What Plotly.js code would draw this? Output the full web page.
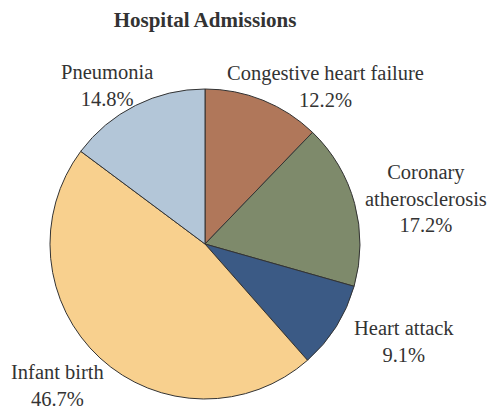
<!DOCTYPE html>
<html>
<head>
<meta charset="utf-8">
<script src="https://cdn.plot.ly/plotly-3.0.1.min.js"></script>
<style>html,body{margin:0;padding:0;background:#fff;}#chart{width:494px;height:413px;}</style>
</head>
<body>
<div id="chart"></div>
<script>
const categories = ["Congestive heart failure", "Coronary atherosclerosis", "Heart attack", "Infant birth", "Pneumonia"];
const labelLines = ["Congestive heart failure", "Coronary<br>atherosclerosis", "Heart attack", "Infant birth", "Pneumonia"];
const percents = [12.2, 17.2, 9.1, 46.7, 14.8];
const colors = ["#b0775a", "#7e8a6b", "#3b5a85", "#f8d08e", "#b3c6d8"];
const labelPos = [[325, 87], [426, 199], [404, 341], [57, 385], [107, 86]];

const W = 494, H = 413;
const annotations = categories.map((c, i) => ({
  text: labelLines[i] + "<br>" + percents[i].toFixed(1) + "%",
  x: labelPos[i][0] / W, y: 1 - labelPos[i][1] / H,
  xref: "paper", yref: "paper", xanchor: "center", yanchor: "middle",
  showarrow: false, align: "center",
  font: {family: "Liberation Serif, serif", size: 20.5, color: "#333"}
}));

const data = [{
  type: "pie",
  labels: categories,
  values: percents,
  sort: false,
  direction: "clockwise",
  rotation: 0,
  textinfo: "none",
  hoverinfo: "label+percent",
  marker: {colors: colors, line: {color: "#333", width: 1}},
  domain: {x: [50 / W, 360 / W], y: [(H - 399) / H, (H - 89) / H]}
}];

const layout = {
  width: W, height: H,
  margin: {l: 0, r: 0, t: 0, b: 0},
  paper_bgcolor: "#fff",
  showlegend: false,
  title: {text: "<b>Hospital Admissions</b>", x: 205 / W, xanchor: "center", y: 1 - 20 / H, yanchor: "middle",
          font: {family: "Liberation Serif, serif", size: 21, color: "#333"}},
  annotations: annotations
};

Plotly.newPlot("chart", data, layout, {displayModeBar: false, staticPlot: true});
</script>
</body>
</html>
